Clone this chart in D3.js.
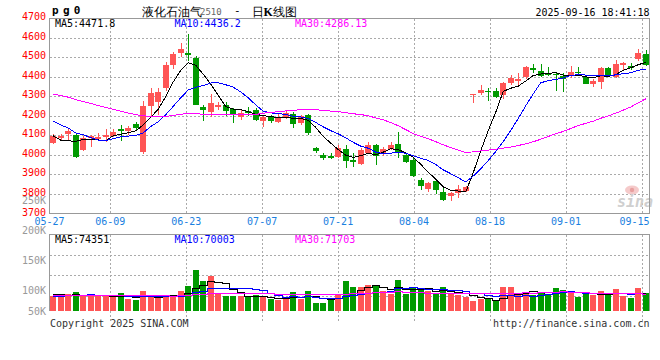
<!DOCTYPE html>
<html><head><meta charset="utf-8">
<script src="https://cdn.jsdelivr.net/npm/d3@7"></script>
<style>
html,body{margin:0;padding:0;background:#fff;}
svg{display:block;}
text{font-family:"DejaVu Sans Mono",monospace;}
</style></head><body>
<svg id="chart" width="660" height="360"></svg>
<script>
// ---------- data ----------
const dates = ["05-27","05-28","05-29","05-30","06-03","06-04","06-05","06-06","06-09","06-10",
"06-11","06-12","06-13","06-16","06-17","06-18","06-19","06-20","06-23","06-24",
"06-25","06-26","06-27","06-30","07-01","07-02","07-03","07-04","07-07","07-08",
"07-09","07-10","07-11","07-14","07-15","07-16","07-17","07-18","07-21","07-22",
"07-23","07-24","07-25","07-28","07-29","07-30","07-31","08-01","08-04","08-05",
"08-06","08-07","08-08","08-11","08-12","08-13","08-14","08-15","08-18","08-19",
"08-20","08-21","08-22","08-25","08-26","08-27","08-28","08-29","09-01","09-02",
"09-03","09-04","09-05","09-08","09-09","09-10","09-11","09-12","09-15","09-16"];
const opens = [4062,4088,4110,4100,4022,4082,4082,4090,4098,4130,
4121,4158,4016,4252,4272,4340,4462,4522,4522,4497,
4243,4218,4243,4255,4232,4198,4226,4230,4176,4198,
4172,4197,4210,4160,4204,4033,3998,3996,3987,4028,
3976,3954,4010,4050,4004,4030,4056,4000,3975,3872,
3828,3866,3811,3790,3803,3816,4307,4317,4326,4326,
4306,4366,4378,4400,4446,4431,4413,4412,4404,4400,
4424,4400,4361,4369,4442,4397,4463,4455,4489,4516];
const highs = [4108,4106,4135,4106,4095,4103,4112,4134,4130,4152,
4146,4170,4275,4340,4344,4477,4528,4573,4618,4505,
4256,4312,4268,4270,4240,4230,4243,4238,4203,4204,
4210,4226,4221,4205,4210,4042,4010,4010,4050,4050,
4010,4035,4068,4057,4042,4066,4118,4006,3984,3880,
3862,3872,3837,3811,3846,3842,4311,4357,4343,4343,
4372,4410,4418,4454,4465,4465,4451,4418,4418,4455,
4448,4408,4386,4448,4448,4486,4477,4468,4540,4536];
const lows = [4055,4069,4076,3985,4020,4040,4078,4068,4093,4072,
4100,4128,4004,4198,4204,4325,4440,4500,4478,4255,
4175,4196,4228,4198,4162,4178,4198,4175,4140,4165,
4162,4183,4138,4152,4102,4008,3975,3978,3982,3932,
3940,3948,4005,3950,3992,4025,3985,3958,3885,3820,
3812,3800,3764,3764,3780,3811,4266,4306,4276,4290,
4288,4358,4357,4386,4418,4398,4403,4325,4322,4392,
4412,4360,4349,4337,4400,4391,4434,4434,4482,4456];
const closes = [4098,4098,4123,3990,4085,4094,4091,4102,4118,4120,
4137,4138,4250,4318,4322,4460,4516,4542,4514,4258,
4230,4266,4254,4222,4200,4216,4214,4180,4196,4170,
4196,4216,4158,4198,4110,4020,3984,3988,4033,3966,
3966,4025,4050,3996,4032,4051,4008,3962,3892,3842,
3857,3820,3770,3803,3825,3834,4311,4332,4319,4294,
4368,4391,4386,4450,4434,4405,4409,4405,4387,4422,
4417,4366,4378,4442,4403,4465,4472,4446,4520,4460];
const volumes = [59300,63700,67300,76100,59300,62000,59300,59300,55800,71700,
48700,43400,79700,59300,51300,63700,63700,79700,100000,165500,
120400,140700,70800,61100,61100,61100,56600,66400,55800,50400,
43400,55800,77000,50400,79700,32700,32700,53100,66400,120400,
96500,96500,104400,100000,82300,70800,124800,67300,93800,90300,
79700,70800,96500,70800,66400,56600,38900,47800,47800,38900,
96500,96500,63700,77000,63700,74300,67300,93800,84100,79700,
56600,70800,63700,79700,63700,87600,61100,53100,93800,73500];
// sessions before 05-27 (estimated from where the moving-average lines start)
const preCloses = [4340,4360,4370,4380,4390,4400,4405,4410,4410,4405,4400,4406,
4420,4400,4390,4370,4360,4340,4330,4314,4300,4280,4241,4175,4249,4208,4138,4005,4036];
const preVolumes = [66000,72000,63000,70000,75000,61000,68000,74000,64000,69000,
67000,62000,72000,70000,65000,68000,71000,64000,69000,74000,
58000,52000,56000,53000,57000,68000,74000,70000,73000];
const dateTicks = ["05-27","06-09","06-23","07-07","07-21","08-04","08-18","09-01","09-15"];
const priceTicks = [4700,4600,4500,4400,4300,4200,4100,4000,3900,3800,3700];
const volTickLabels = ["250K","200K","150K","100K","50K"];
const volTickValues = [250000,200000,150000,100000,50000];
const maPeriods = [5,10,30];
const maColors = ["#000000","#0000ff","#ff00ff"];
const priceLegend = ["MA5:4471.8","MA10:4436.2","MA30:4286.13"];
const volLegend = ["MA5:74351","MA10:70003","MA30:71703"];

// ---------- layout ----------
const svg = d3.select("#chart");
const L = 49.5, R = 649.5;
const mainTop = 18.5, mainBot = 213.5;
const volTop = 234.5, volBase = 311, volGridBot = 321;
const RED = "#ff5555", GREEN = "#009a00";

const y = d3.scaleLinear().domain([3700,4700]).range([213.5,18]);
const xb = d3.scaleBand().domain(d3.range(dates.length)).range([L,R]);
const cx = i => xb(i) + xb.bandwidth()/2;
const gx = d3.scalePoint().domain(dates).range([L,R]);
const vy = d3.scaleLinear().domain([0,310000]).range([volBase,234.5]);
const volLabelY = d3.scaleLinear().domain([50000,100000,250000]).range([311.7,290.7,200.7]);
const volGridRow = d3.scaleLinear().domain([0,4]).range([volTop, volTop+81.4]);

function ma(series, pre, n){
  const all = pre.concat(series);
  return series.map((_,i)=>d3.mean(all.slice(i+pre.length-n+1, i+pre.length+1)));
}
const px = v => Math.round(v)+0.5;

// ---------- main panel grid ----------
const g = svg.append("g");
g.selectAll(".hg").data(priceTicks.filter(v=>v<4700 && v>3700)).join("line")
  .attr("x1",L).attr("x2",R).attr("y1",d=>px(y(d))).attr("y2",d=>px(y(d)))
  .attr("stroke","#aaa").attr("stroke-dasharray","2,2").attr("shape-rendering","crispEdges");
g.selectAll(".vg").data(dateTicks.slice(1)).join("line")
  .attr("x1",d=>px(gx(d))).attr("x2",d=>px(gx(d))).attr("y1",mainTop).attr("y2",mainBot)
  .attr("stroke","#aaa").attr("stroke-dasharray","2,2").attr("shape-rendering","crispEdges");

// volume grid
g.selectAll(".vhg").data([1,2,3]).join("line")
  .attr("x1",L).attr("x2",R).attr("y1",d=>px(volGridRow(d))).attr("y2",d=>px(volGridRow(d)))
  .attr("stroke","#aaa").attr("stroke-dasharray","2,2").attr("shape-rendering","crispEdges");
g.selectAll(".vvg").data(dateTicks.slice(1)).join("line")
  .attr("x1",d=>px(gx(d))).attr("x2",d=>px(gx(d))).attr("y1",volTop).attr("y2",volGridBot)
  .attr("stroke","#aaa").attr("stroke-dasharray","2,2").attr("shape-rendering","crispEdges");

// sina watermark
const wm = svg.append("g");
wm.append("ellipse").attr("cx",632).attr("cy",190).attr("rx",7).attr("ry",4.5).attr("fill","#f5caca");
wm.append("circle").attr("cx",632).attr("cy",190).attr("r",2.2).attr("fill","#e8a0a0");
wm.append("text").attr("x",617).attr("y",207).text("sina")
  .attr("font-family","DejaVu Sans").attr("font-style","italic").attr("font-weight","bold")
  .attr("font-size","15px").attr("fill","#cfcfcf");

// ---------- candles ----------
const idx = d3.range(dates.length);
const up = i => closes[i] >= opens[i];
const cg = svg.append("g").attr("shape-rendering","crispEdges");
cg.selectAll(".wick").data(idx).join("line")
  .attr("x1",i=>Math.round(cx(i)-3)+3.5).attr("x2",i=>Math.round(cx(i)-3)+3.5)
  .attr("y1",i=>y(highs[i])).attr("y2",i=>y(lows[i]))
  .attr("stroke",i=>up(i)?RED:GREEN).attr("stroke-width",1);
cg.selectAll(".body").data(idx).join("rect")
  .attr("x",i=>Math.round(cx(i)-3)).attr("width",6)
  .attr("y",i=>Math.round(y(Math.max(opens[i],closes[i]))))
  .attr("height",i=>Math.max(1,Math.round(Math.abs(y(opens[i])-y(closes[i])))))
  .attr("fill",i=>up(i)?RED:GREEN);

// MA lines
maPeriods.forEach((n,k)=>{
  const m = ma(closes, preCloses, n);
  svg.append("path").datum(idx)
    .attr("d", d3.line().x(i=>cx(i)).y(i=>y(m[i])))
    .attr("fill","none").attr("stroke",maColors[k]).attr("stroke-width",1)
    .attr("shape-rendering","crispEdges");
});

// ---------- volume bars ----------
const vg = svg.append("g").attr("shape-rendering","crispEdges");
vg.selectAll("rect").data(idx).join("rect")
  .attr("x",i=>Math.round(cx(i)-3)).attr("width",6)
  .attr("y",i=>Math.round(vy(volumes[i]))).attr("height",i=>volBase-Math.round(vy(volumes[i])))
  .attr("fill",i=>up(i)?RED:GREEN);
maPeriods.forEach((n,k)=>{
  const m = ma(volumes, preVolumes, n);
  svg.append("path").datum(idx)
    .attr("d", d3.line().curve(d3.curveStep).x(i=>cx(i)).y(i=>Math.round(vy(m[i]))+0.5))
    .attr("fill","none").attr("stroke",maColors[k]).attr("stroke-width",1)
    .attr("shape-rendering","crispEdges");
});

// ---------- borders ----------
const bd = svg.append("g").attr("fill","none").attr("stroke","#999").attr("shape-rendering","crispEdges");
bd.append("rect").attr("x",L).attr("y",mainTop).attr("width",R-L).attr("height",mainBot-mainTop);
bd.append("path").attr("d",`M${L},${volBase}V${volTop}H${R}V${volBase}`);

// ---------- axis labels ----------
svg.append("g").selectAll("text").data(volTickValues).join("text")
  .attr("x",46).attr("y",d=>volLabelY(d)).attr("dy","0.36em").attr("text-anchor","end")
  .attr("font-size","10px").attr("fill","#999").text((d,i)=>volTickLabels[i]);
svg.append("g").selectAll("text").data(priceTicks).join("text")
  .attr("x",46).attr("y",d=>y(d)).attr("dy","0.2em").attr("text-anchor","end")
  .attr("font-size","10px").attr("fill","#f00").text(d=>d);
const dl = svg.append("g").selectAll("text").data(dateTicks).join("text")
  .attr("x",d=>gx(d)).attr("y",225).attr("text-anchor","middle")
  .attr("font-size","10px").attr("fill","#1a80e0").text(d=>d);
dl.each(function(d){
  const w = this.getComputedTextLength();
  const x = Math.min(gx(d), R - w/2);
  d3.select(this).attr("x", x);
});

// ---------- legends ----------
const legX = [55,174.5,295];
svg.append("g").selectAll("text").data(priceLegend).join("text")
  .attr("x",(d,i)=>legX[i]).attr("y",26.5).attr("font-size","10px")
  .attr("fill",(d,i)=>maColors[i]).text(d=>d);
svg.append("g").selectAll("text").data(volLegend).join("text")
  .attr("x",(d,i)=>legX[i]).attr("y",242.5).attr("font-size","10px")
  .attr("fill",(d,i)=>maColors[i]).text(d=>d);

// ---------- header ----------
svg.append("text").attr("x",52).attr("y",14).attr("font-size","11px").attr("font-weight","bold")
  .attr("letter-spacing","4.3px").attr("fill","#000").text("pg0");
const cjk = '"Noto Sans CJK SC", sans-serif';
svg.append("text").attr("x",141.5).attr("y",15.5).attr("font-family",cjk).attr("font-size","11.5px")
  .attr("fill","#000").text("液化石油气");
svg.append("text").attr("x",200).attr("y",15).attr("font-family","DejaVu Sans").attr("font-size","9px")
  .attr("fill","#666").text("2510");
svg.append("text").attr("x",234).attr("y",14).attr("font-size","11px").attr("fill","#000").text("-");
const t2 = svg.append("text").attr("x",251.5).attr("y",15.5).attr("font-family",cjk)
  .attr("font-size","11.5px").attr("fill","#000");
t2.append("tspan").text("日");
t2.append("tspan").attr("font-weight","bold").attr("font-family","Liberation Serif").attr("font-size","12px").text("K");
t2.append("tspan").text("线图");
svg.append("text").attr("x",649.5).attr("y",15.5).attr("text-anchor","end").attr("font-size","11px")
  .attr("textLength",114).attr("lengthAdjust","spacingAndGlyphs").attr("fill","#000")
  .text("2025-09-16 18:41:18");

// ---------- footer ----------
svg.append("text").attr("x",50).attr("y",327).attr("font-size","10px").attr("fill","#333")
  .text("Copyright 2025 SINA.COM");
svg.append("text").attr("x",649.5).attr("y",327).attr("text-anchor","end").attr("font-size","10px")
  .attr("fill","#333").text("http://finance.sina.com.cn");
</script>
</body></html>
